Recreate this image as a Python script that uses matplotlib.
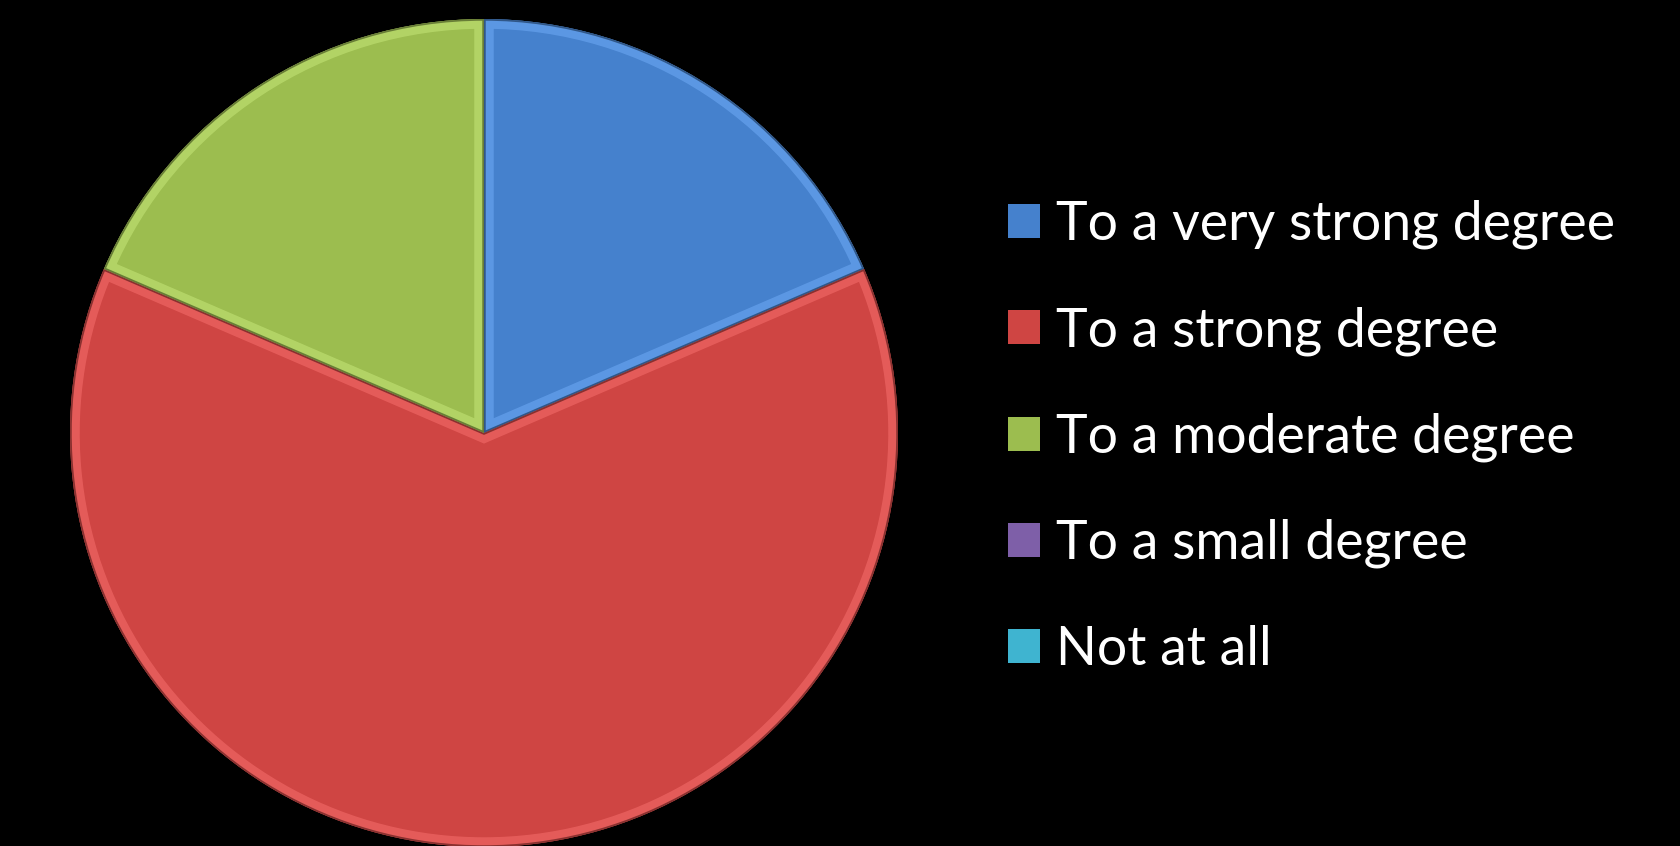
import matplotlib
matplotlib.use("Agg")
import matplotlib.pyplot as plt
import numpy as np

categories = ["To a very strong degree", "To a strong degree", "To a moderate degree",
              "To a small degree", "Not at all"]
values = [5, 17, 5, 0, 0]
colors = ["#4581CD", "#CF4543", "#9CBD4F", "#7E5FA8", "#3FB4D0"]

W, H = 1681, 846
fig = plt.figure(figsize=(W / 100, H / 100), dpi=100, facecolor="black")

cx, cy, r = 484, 846 - 433, 414
ax = fig.add_axes([(cx - r) / W, (cy - r) / H, 2 * r / W, 2 * r / H])
ax.set_facecolor("black")

wedges, _ = ax.pie(values, colors=colors, startangle=90, counterclock=False,
                   radius=1.0, wedgeprops=dict(linewidth=0))
ax.set_xlim(-1, 1)
ax.set_ylim(-1, 1)
ax.set_aspect("equal")
ax.axis("off")

# bevel-like highlight and shadow
for w, c in zip(wedges, colors):
    if w.theta2 - w.theta1 < 1e-6:
        continue
    base = np.array(matplotlib.colors.to_rgb(c))
    light = np.clip(base + 0.2, 0, 1)
    dark = base * 0.55
    hl = matplotlib.patches.Wedge(w.center, w.r, w.theta1, w.theta2,
                                  facecolor="none", edgecolor=light, linewidth=14, alpha=0.45)
    ax.add_patch(hl)
    hl.set_clip_path(w)
    sh = matplotlib.patches.Wedge(w.center, w.r, w.theta1, w.theta2,
                                  facecolor="none", edgecolor=dark, linewidth=2.5, alpha=0.8)
    ax.add_patch(sh)
    sh.set_clip_path(w)

plt.rcParams["font.family"] = ["Lato", "DejaVu Sans"]
leg = fig.legend(wedges, categories, loc="center left",
                 bbox_to_anchor=(1008 / W, 1 - 437 / H),
                 frameon=False,
                 handlelength=0.6, handleheight=0.6, handletextpad=0.3,
                 labelspacing=1.06, borderaxespad=0, borderpad=0,
                 prop={"family": ["Lato", "DejaVu Sans"], "size": 38.6})
for t in leg.get_texts():
    t.set_color("white")

fig.savefig("out.png", dpi=100, facecolor="black")
